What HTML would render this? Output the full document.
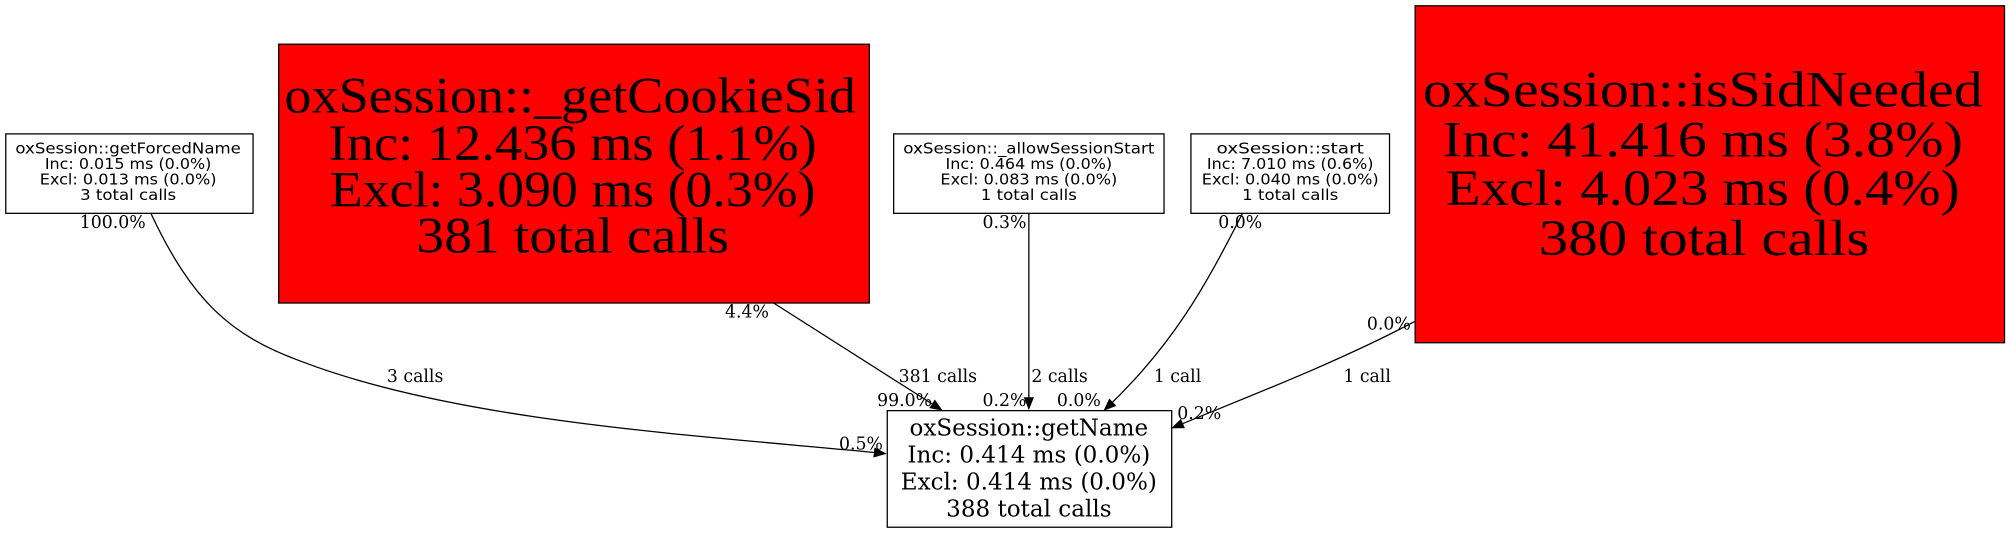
<!DOCTYPE html>
<html><head><meta charset="utf-8"><style>
html,body{margin:0;padding:0;background:#fff;width:2009px;height:533px;overflow:hidden}
svg{display:block}
.s{font-family:"DejaVu Sans","Liberation Sans",sans-serif;font-size:12px}
.l{font-family:"DejaVu Serif","Liberation Serif",serif;font-size:13.5px}
.m{font-family:"DejaVu Serif","Liberation Serif",serif;font-size:18px}
.b{font-family:"Liberation Serif",serif;font-size:40px}
</style></head><body>
<svg width="2009" height="533" viewBox="0 0 1568 416" xmlns="http://www.w3.org/2000/svg">
<defs><marker id="a" markerWidth="10" markerHeight="8" refX="9" refY="4" orient="auto" markerUnits="userSpaceOnUse"><path d="M0,0 L10,4 L0,8 z" fill="#000"/></marker></defs>
<g fill="none" stroke="#000" stroke-width="1">
<path d="M118,167 C150,235 180,262 235,282 C360,330 550,340 691,354" marker-end="url(#a)"/>
<path d="M603,236 L735,320" marker-end="url(#a)"/>
<path d="M803,166 L803,319" marker-end="url(#a)"/>
<path d="M970,166 C940,225 915,270 862,320" marker-end="url(#a)"/>
<path d="M1104,251 C1040,285 960,315 915,334" marker-end="url(#a)"/>
</g>
<g stroke="#000" stroke-width="1">
<rect x="4.5" y="104.5" width="193" height="62" fill="#fff"/>
<rect x="217.5" y="34.5" width="461" height="202" fill="#f00"/>
<rect x="697.5" y="104.5" width="211" height="62" fill="#fff"/>
<rect x="929.5" y="104.5" width="155" height="62" fill="#fff"/>
<rect x="1104.5" y="4.5" width="460" height="263" fill="#f00"/>
<rect x="692.5" y="320.5" width="222" height="91" fill="#fff"/>
</g>
<g text-anchor="middle" fill="#000">
<g class="s" lengthAdjust="spacingAndGlyphs">
<text x="100" y="120" textLength="176" lengthAdjust="spacingAndGlyphs">oxSession::getForcedName</text><text x="100" y="132" textLength="130" lengthAdjust="spacingAndGlyphs">Inc: 0.015 ms (0.0%)</text><text x="100" y="144" textLength="138" lengthAdjust="spacingAndGlyphs">Excl: 0.013 ms (0.0%)</text><text x="100" y="156" textLength="75" lengthAdjust="spacingAndGlyphs">3 total calls</text>
<text x="803" y="120" textLength="196" lengthAdjust="spacingAndGlyphs">oxSession::_allowSessionStart</text><text x="803" y="132" textLength="130" lengthAdjust="spacingAndGlyphs">Inc: 0.464 ms (0.0%)</text><text x="803" y="144" textLength="138" lengthAdjust="spacingAndGlyphs">Excl: 0.083 ms (0.0%)</text><text x="803" y="156" textLength="75" lengthAdjust="spacingAndGlyphs">1 total calls</text>
<text x="1007" y="120" textLength="115" lengthAdjust="spacingAndGlyphs">oxSession::start</text><text x="1007" y="132" textLength="130" lengthAdjust="spacingAndGlyphs">Inc: 7.010 ms (0.6%)</text><text x="1007" y="144" textLength="138" lengthAdjust="spacingAndGlyphs">Excl: 0.040 ms (0.0%)</text><text x="1007" y="156" textLength="75" lengthAdjust="spacingAndGlyphs">1 total calls</text>
</g>
<g class="b">
<text x="445" y="88" textLength="446" lengthAdjust="spacingAndGlyphs">oxSession::_getCookieSid</text><text x="447" y="125" textLength="381" lengthAdjust="spacingAndGlyphs">Inc: 12.436 ms (1.1%)</text><text x="447" y="161" textLength="379" lengthAdjust="spacingAndGlyphs">Excl: 3.090 ms (0.3%)</text><text x="447" y="197" textLength="244" lengthAdjust="spacingAndGlyphs">381 total calls</text>
<text x="1329" y="83" textLength="437" lengthAdjust="spacingAndGlyphs">oxSession::isSidNeeded</text><text x="1329" y="122" textLength="406" lengthAdjust="spacingAndGlyphs">Inc: 41.416 ms (3.8%)</text><text x="1329" y="160" textLength="401" lengthAdjust="spacingAndGlyphs">Excl: 4.023 ms (0.4%)</text><text x="1330" y="199" textLength="258" lengthAdjust="spacingAndGlyphs">380 total calls</text>
</g>
<g class="m">
<text x="803" y="340">oxSession::getName</text><text x="803" y="361">Inc: 0.414 ms (0.0%)</text><text x="803" y="382">Excl: 0.414 ms (0.0%)</text><text x="803" y="403">388 total calls</text>
</g>
<g class="l">
<text x="88" y="178">100.0%</text><text x="324" y="298">3 calls</text><text x="672" y="351">0.5%</text>
<text x="583" y="248">4.4%</text><text x="732" y="298">381 calls</text><text x="706" y="317">99.0%</text>
<text x="784" y="178">0.3%</text><text x="827" y="298">2 calls</text><text x="784" y="317">0.2%</text>
<text x="968" y="178">0.0%</text><text x="919" y="298">1 call</text><text x="842" y="317">0.0%</text>
<text x="1084" y="257">0.0%</text><text x="1067" y="298">1 call</text><text x="936" y="327">0.2%</text>
</g>
</g>
</svg>
</body></html>
